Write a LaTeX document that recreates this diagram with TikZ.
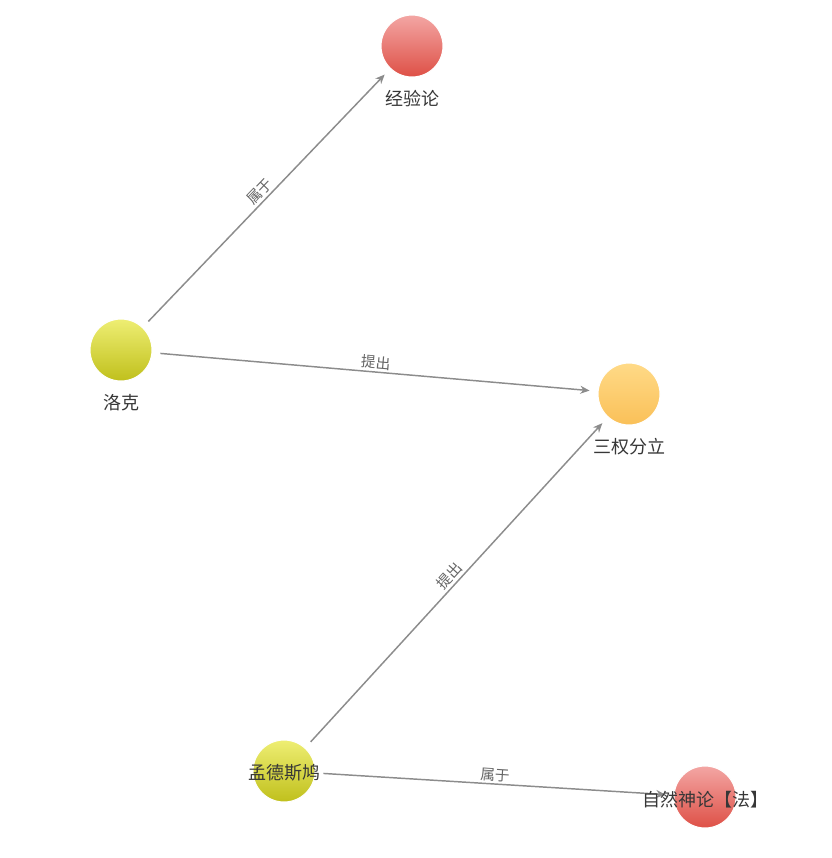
\documentclass[tikz,border=0pt]{standalone}
\usepackage{fontspec}
\setmainfont{Noto Sans CJK SC}
\usetikzlibrary{arrows.meta}

\definecolor{edgegray}{RGB}{140,140,140}
\definecolor{labgray}{RGB}{100,100,100}
\definecolor{txtgray}{RGB}{55,55,55}

\tikzset{
  ball/.style={circle, minimum size=46.5pt, inner sep=0pt, draw=white, line width=0.8pt, shading=axis},
  redball/.style={ball, top color={rgb,255:red,243;green,166;blue,164}, bottom color={rgb,255:red,222;green,80;blue,70}},
  limeball/.style={ball, top color={rgb,255:red,238;green,238;blue,115}, bottom color={rgb,255:red,192;green,192;blue,28}},
  goldball/.style={ball, top color={rgb,255:red,255;green,218;blue,135}, bottom color={rgb,255:red,250;green,192;blue,88}},
  balltext/.style={text=txtgray, font=\fontsize{13.5}{15}\selectfont, inner sep=0.75pt},
  rel/.style={draw=edgegray, line width=1.1pt, -{Stealth[length=7pt,width=6pt]}, shorten <=6pt, shorten >=6pt},
  rellab/.style={text=labgray, font=\fontsize{11}{12}\selectfont, inner sep=1.5pt, midway, above, sloped}
}

\begin{document}
% y points down, as in pixels
\begin{tikzpicture}[x=0.75pt,y=-0.75pt]
\useasboundingbox (0,0) rectangle (832,858);

% Nodes
\node [redball]  (jyl) at (412,46) {};
\node [limeball] (lk)  at (121,350) {};
\node [goldball] (sqfl) at (629,394) {};
\node [limeball] (mdsj) at (284,771) {};
\node [redball]  (zrsl) at (705,797) {};

% Edges
\draw [rel] (lk) -- (jyl) node [rellab] {属于};
\draw [rel] (lk) -- (sqfl) node [rellab] {提出};
\draw [rel] (mdsj) -- (sqfl) node [rellab] {提出};
\draw [rel] (mdsj) -- (zrsl) node [rellab] {属于};

% redraw balls on top
\node [redball] at (zrsl) {};
\node [limeball] at (mdsj) {};

% Text Nodes
\node [balltext] (jyl-t)  at (412,99)  {经验论};
\node [balltext] (lk-t)   at (121,403) {洛克};
\node [balltext] (sqfl-t) at (629,447) {三权分立};
\node [balltext] (mdsj-t) at (284,773) {孟德斯鸠};
\node [balltext] (zrsl-t) at (705,800) {自然神论【法】};

\end{tikzpicture}
\end{document}
